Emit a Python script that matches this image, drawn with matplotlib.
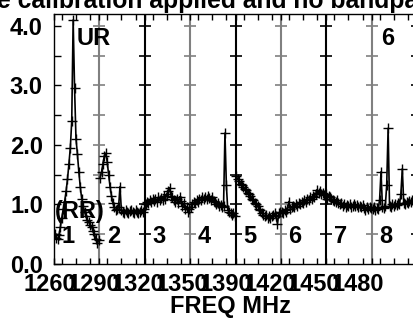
import numpy as np
import matplotlib
matplotlib.use('Agg')
from matplotlib import pyplot as plt
from matplotlib import transforms

# amplitude per channel, 32 channels in each IF
if1 = [0.50, 0.44, 0.42, 0.48, 0.62, 0.78, 0.92, 1.05, 1.22, 1.42, 1.68, 1.95, 2.40, 4.10, 2.95, 2.10,
       1.85, 1.55, 1.30, 1.10, 0.98, 0.88, 0.80, 0.74, 0.70, 0.66, 0.62, 0.56, 0.50, 0.42, 0.35, 0.40]
if2 = [1.45, 1.55, 1.68, 1.82, 1.86, 1.72, 1.50, 1.30, 1.15, 1.02, 0.95, 0.90, 0.92, 0.95, 1.30, 0.90,
       0.88, 0.86, 0.90, 0.88, 0.85, 0.89, 0.91, 0.87, 0.86, 0.90, 0.88, 0.85, 0.88, 0.90, 0.87, 0.92]
if3 = [1.00, 1.05, 1.02, 1.08, 1.04, 1.10, 1.06, 1.09, 1.05, 1.12, 1.08, 1.11, 1.07, 1.14, 1.10, 1.18,
       1.22, 1.28, 1.15, 1.12, 1.08, 1.05, 1.10, 1.02, 1.13, 1.06, 0.98, 1.02, 0.92, 0.95, 0.88, 0.92]
if4 = [0.95, 1.00, 1.04, 1.02, 1.07, 1.05, 1.10, 1.08, 1.12, 1.09, 1.13, 1.10, 1.14, 1.11, 1.08, 1.12,
       1.06, 1.04, 1.00, 1.02, 0.97, 0.99, 0.95, 0.97, 2.20, 1.32, 0.90, 0.88, 0.85, 0.82, 0.86, 0.80]
if5 = [1.48, 1.42, 1.40, 1.35, 1.33, 1.30, 1.26, 1.24, 1.20, 1.18, 1.15, 1.10, 1.08, 1.03, 1.00, 0.97,
       0.93, 0.90, 0.86, 0.83, 0.80, 0.82, 0.78, 0.80, 0.77, 0.80, 0.82, 0.85, 0.80, 0.68, 0.85, 0.88]
if6 = [0.88, 0.85, 0.90, 0.88, 0.92, 1.05, 0.93, 0.95, 0.97, 0.96, 1.00, 0.98, 1.02, 1.01, 1.04, 1.03,
       1.07, 1.05, 1.09, 1.08, 1.12, 1.10, 1.15, 1.13, 1.18, 1.25, 1.20, 1.22, 1.18, 1.20, 1.16, 1.18]
if7 = [1.10, 1.15, 1.12, 1.10, 1.08, 1.06, 1.04, 1.07, 1.02, 1.00, 1.03, 0.98, 1.00, 0.96, 0.99, 0.97,
       1.00, 0.96, 0.98, 1.01, 0.97, 0.99, 0.95, 0.98, 0.96, 0.99, 0.94, 0.90, 0.95, 0.93, 0.96, 0.94]
if8 = [0.92, 0.95, 0.90, 0.94, 0.92, 1.08, 1.55, 0.96, 0.94, 0.97, 1.32, 2.28, 0.98, 0.96, 1.00, 0.97,
       1.01, 0.99, 1.02, 1.00, 1.18, 1.60, 1.03, 1.01, 1.05, 1.03, 1.06, 1.05, 1.08, 1.06, 1.09, 1.07]
spectra = [if1, if2, if3, if4, if5, if6, if7, if8]

if_names = ['1', '2', '3', '4', '5', '6', '7', '8']
freq_labels = ['1260', '1290', '1320', '1350', '1390', '1420', '1450', '1480']

title = 'Amplitude calibration applied and no bandpass'

plt.rcParams['font.family'] = 'Liberation Sans'
plt.rcParams['font.weight'] = 'bold'
FS = 17

W, H = 414, 321
fig = plt.figure(figsize=(W / 100, H / 100), dpi=100)
ifw = 45.4      # pixels per IF
ax = fig.add_axes([54 / W, 57 / H, 8 * ifw / W, 250 / H])

nchan = 32
for k, amp in enumerate(spectra):
    x = k + (np.arange(nchan) + 0.5) / nchan
    ax.plot(x, amp, color='k', lw=1.2, marker='+', ms=7, mew=1.0)

# IF boundaries with the amplitude ticks drawn across them
yt = np.arange(0.5, 4.01, 0.5)
for k in range(1, 9):
    c = '#808080' if k % 2 else 'k'
    ax.axvline(k, color=c, lw=1.5, zorder=1)
    ax.plot(np.full(len(yt), k), yt, ls='none', marker='_', ms=8, mew=1.2, color=c, zorder=1)

for k, name in enumerate(if_names):
    ax.text(k + 0.16, 0.35, name, fontsize=FS, va='baseline')

ax.text(0.49, 3.68, 'UR', fontsize=FS, va='baseline')
ax.text(7.2, 3.68, '6', fontsize=FS, va='baseline')
ax.text(0.02, 0.77, '(RR)', fontsize=FS, va='baseline')

ax.set_yticks(np.arange(0, 4.01, 0.5))
ax.set_yticklabels(['%.1f' % v if v == int(v) else '' for v in np.arange(0, 4.01, 0.5)])
ax.tick_params(axis='y', direction='in', length=5, width=1, labelsize=FS, pad=8)

# frequency labels sit a little left of each IF start, so they are placed by hand
ax.set_xticks([])
minor = [k + f for k in range(8) for f in (0.0, 0.176, 0.486, 0.796)]
ax.set_xticks(minor, minor=True)
ax.tick_params(axis='x', which='minor', direction='in', length=4, width=1, top=True, bottom=True)
xt = transforms.blended_transform_factory(ax.transData, ax.transAxes)
for k, lab in enumerate(freq_labels):
    ax.text(-0.088 + 0.969 * k, -0.036, lab, transform=xt, fontsize=FS,
            ha='center', va='top', clip_on=False)

ax.set_xlim(0, 8)
ax.set_ylim(0, 4.2)

for s in ax.spines.values():
    s.set_linewidth(1.0)

fig.text(231 / W, 1 - 313 / H, 'FREQ MHz', fontsize=FS, ha='center', va='baseline')

# the header line is wider than the page, so it runs off both sides
tkw = dict(fontsize=17.8, fontweight='bold', va='baseline')
fig.canvas.draw()
r = fig.canvas.get_renderer()
pre = fig.text(0, 0, 'Amplitud', **tkw)
w = pre.get_window_extent(r).width
pre.remove()
fig.text(-(w + 3) / W, 1 - 8 / H, title, **tkw)

fig.savefig('out.png', dpi=100)
